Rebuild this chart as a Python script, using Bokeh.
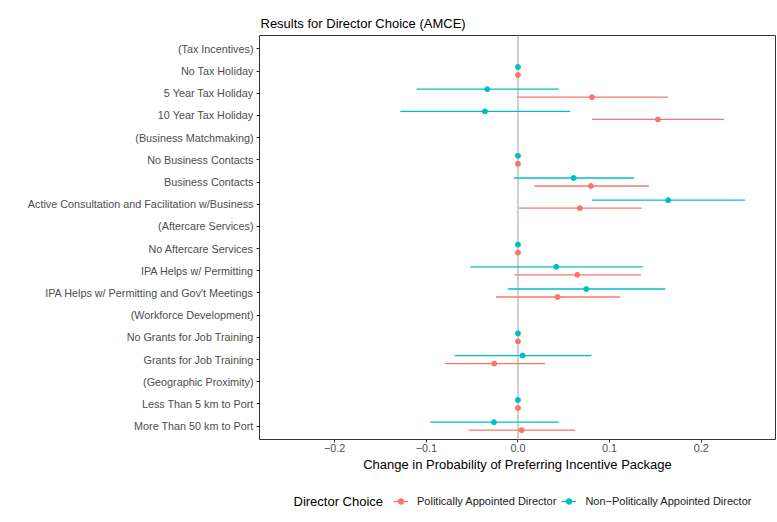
import math
from bokeh.plotting import figure
from bokeh.layouts import column
from bokeh.models import (Range1d, FixedTicker, Span, Legend, LegendItem, ColumnDataSource, Title, Label)
from bokeh.embed import file_html
from bokeh.resources import INLINE

categories = [
    "(Tax Incentives)",
    "No Tax Holiday",
    "5 Year Tax Holiday",
    "10 Year Tax Holiday",
    "(Business Matchmaking)",
    "No Business Contacts",
    "Business Contacts",
    "Active Consultation and Facilitation w/Business",
    "(Aftercare Services)",
    "No Aftercare Services",
    "IPA Helps w/ Permitting",
    "IPA Helps w/ Permitting and Gov't Meetings",
    "(Workforce Development)",
    "No Grants for Job Training",
    "Grants for Job Training",
    "(Geographic Proximity)",
    "Less Than 5 km to Port",
    "More Than 50 km to Port",
]
nan = float("nan")

# Politically Appointed Director (red)
pol_est = [nan, 0.0, 0.0807, 0.1527, nan, 0.0, 0.0796, 0.0676, nan, 0.0, 0.0647, 0.0432, nan, 0.0, -0.0258, nan, 0.0, 0.0039]
pol_lo = [nan, nan, -0.0010, 0.0810, nan, nan, 0.0181, 0.0014, nan, nan, -0.0037, -0.0240, nan, nan, -0.0793, nan, nan, -0.0539]
pol_hi = [nan, nan, 0.1636, 0.2250, nan, nan, 0.1428, 0.1352, nan, nan, 0.1341, 0.1116, nan, nan, 0.0294, nan, nan, 0.0625]

# Non-Politically Appointed Director (teal)
non_est = [nan, 0.0, -0.0335, -0.0360, nan, 0.0, 0.0607, 0.1639, nan, 0.0, 0.0418, 0.0745, nan, 0.0, 0.0051, nan, 0.0, -0.0262]
non_lo = [nan, nan, -0.1105, -0.1284, nan, nan, -0.0044, 0.0810, nan, nan, -0.0520, -0.0109, nan, nan, -0.0691, nan, nan, -0.0956]
non_hi = [nan, nan, 0.0444, 0.0570, nan, nan, 0.1268, 0.2479, nan, nan, 0.1363, 0.1606, nan, nan, 0.0800, nan, nan, 0.0447]

x_ticks = [-0.2, -0.1, 0.0, 0.1, 0.2]
x_tick_labels = ["\u22120.2", "\u22120.1", "0.0", "0.1", "0.2"]

legend_title = "Director Choice"
series_names = ["Politically Appointed Director", "Non\u2212Politically Appointed Director"]
RED = "#F8766D"
TEAL = "#00BFC4"
FONT = "Liberation Sans"

n = len(categories)
ypos = [n - i for i in range(n)]
dodge = 0.18

W = 777
H_MAIN = 480
H_LEG = 42
LEFT = 259
RIGHT = 2

p = figure(width=W, height=H_MAIN, output_backend="svg", toolbar_location=None,
           x_range=Range1d(-0.282, 0.281), y_range=Range1d(0.4, n + 0.6),
           min_border_left=LEFT, min_border_right=RIGHT, min_border_top=35, min_border_bottom=41)
p.background_fill_color = "white"
p.border_fill_color = "white"
p.outline_line_color = "#333333"
p.outline_line_width = 1
p.xgrid.visible = False
p.ygrid.visible = False

t = Title(text="Results for Director Choice (AMCE)", align="left", text_font=FONT,
          text_font_size="13px", text_font_style="normal", text_color="black", standoff=9, offset=1)
p.add_layout(t, "above")

zero = Span(location=0, dimension="height", line_color="#cfcfcf", line_width=2, level="underlay")
p.add_layout(zero)

def rows(est, lo, hi, off):
    return ColumnDataSource(dict(
        y=[yv + off for yv in ypos], est=est, lo=lo, hi=hi))

src_pol = rows(pol_est, pol_lo, pol_hi, -dodge)
src_non = rows(non_est, non_lo, non_hi, dodge)

p.segment(x0="lo", y0="y", x1="hi", y1="y", source=src_pol, line_color=RED, line_width=1.3)
p.scatter(x="est", y="y", source=src_pol, size=5, fill_color=RED, line_color=RED)
p.segment(x0="lo", y0="y", x1="hi", y1="y", source=src_non, line_color=TEAL, line_width=1.3)
p.scatter(x="est", y="y", source=src_non, size=5, fill_color=TEAL, line_color=TEAL)

# axes
p.xaxis.ticker = FixedTicker(ticks=x_ticks)
p.xaxis.major_label_overrides = {k: v for k, v in zip(x_ticks, x_tick_labels)}
p.yaxis.ticker = FixedTicker(ticks=ypos)
p.yaxis.major_label_overrides = {yv: c for yv, c in zip(ypos, categories)}
for ax in (p.xaxis, p.yaxis):
    ax.axis_line_color = None
    ax.major_tick_line_color = "#333333"
    ax.major_tick_in = 0
    ax.major_tick_out = 3
    ax.minor_tick_line_color = None
    ax.major_label_text_font = FONT
    ax.major_label_text_font_size = "10.8px"
    ax.major_label_text_color = "#4d4d4d"
p.yaxis.major_label_standoff = 3
p.xaxis.major_label_standoff = 1
p.xaxis.axis_label = "Change in Probability of Preferring Incentive Package"
p.xaxis.axis_label_text_font = FONT
p.xaxis.axis_label_text_font_size = "13px"
p.xaxis.axis_label_text_font_style = "normal"
p.xaxis.axis_label_text_color = "black"
p.xaxis.axis_label_standoff = 2

# legend strip (separate figure below the chart, frame aligned with main frame)
q = figure(width=W, height=H_LEG, output_backend="svg", toolbar_location=None,
           x_range=Range1d(LEFT, W - RIGHT), y_range=Range1d(0, H_LEG),
           min_border_left=LEFT, min_border_right=RIGHT, min_border_top=0, min_border_bottom=0)
q.axis.visible = False
q.grid.visible = False
q.outline_line_color = None
q.background_fill_color = "white"
q.border_fill_color = "white"

lseg_pol = q.segment(x0=[nan], y0=[nan], x1=[nan], y1=[nan], line_color=RED, line_width=1.3)
lpt_pol = q.scatter(x=[nan], y=[nan], size=5, fill_color=RED, line_color=RED)
lseg_non = q.segment(x0=[nan], y0=[nan], x1=[nan], y1=[nan], line_color=TEAL, line_width=1.3)
lpt_non = q.scatter(x=[nan], y=[nan], size=5, fill_color=TEAL, line_color=TEAL)

legend = Legend(items=[LegendItem(label=series_names[0], renderers=[lseg_pol, lpt_pol]),
                       LegendItem(label=series_names[1], renderers=[lseg_non, lpt_non])],
                orientation="horizontal", location=(393 - LEFT, 14))
legend.border_line_color = None
legend.background_fill_alpha = 0
legend.padding = 0
legend.margin = 0
legend.glyph_width = 15
legend.glyph_height = 14
legend.label_standoff = 9
legend.spacing = 5
legend.label_text_font = FONT
legend.label_text_font_size = "11px"
legend.label_text_color = "#1a1a1a"
legend.label_height = 14
q.add_layout(legend, "center")

lt = Label(x=293, y=21, text=legend_title, text_font=FONT, text_font_size="13px",
           text_color="black", text_baseline="middle", text_align="left")
q.add_layout(lt)

layout = column(p, q, spacing=0)
open("out.html", "w").write(file_html(layout, INLINE))
